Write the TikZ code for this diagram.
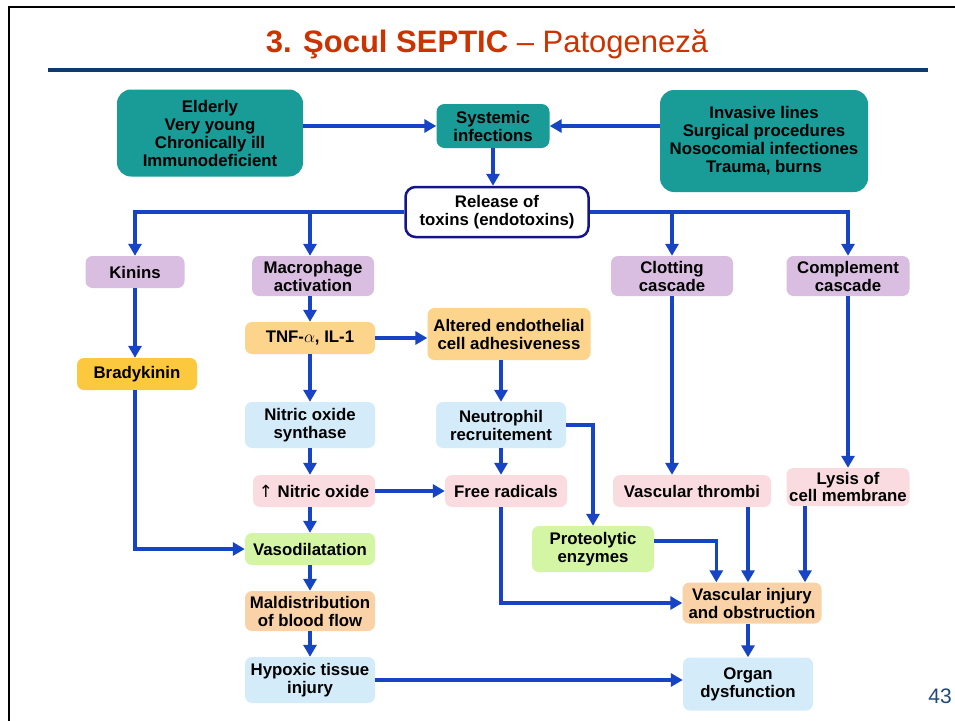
\documentclass[tikz,border=0pt]{standalone}
\usepackage{fontspec}
\setmainfont{Liberation Sans}
\newfontfamily\symfont{DejaVu Sans}
\usetikzlibrary{arrows.meta,calc}
\definecolor{tealc}{RGB}{25,155,152}
\definecolor{arrowc}{RGB}{22,68,196}
\definecolor{relc}{RGB}{20,20,140}
\definecolor{purplec}{RGB}{218,190,226}
\definecolor{orangec}{RGB}{252,212,140}
\definecolor{yellowc}{RGB}{252,200,62}
\definecolor{lbluec}{RGB}{212,236,250}
\definecolor{pinkc}{RGB}{250,220,224}
\definecolor{greenc}{RGB}{212,246,164}
\definecolor{peachc}{RGB}{250,210,168}
\definecolor{titlec}{RGB}{204,51,0}
\definecolor{navyc}{RGB}{16,58,107}
\definecolor{numc}{RGB}{31,73,125}
\begin{document}
\begin{tikzpicture}[x=1pt,y=-1pt,
  box/.style={rounded corners=7pt, inner sep=1pt, align=center, text=black,
    font=\bfseries\fontsize{16.8}{18}\selectfont},
  tealbox/.style={box, fill=tealc, rounded corners=14pt},
  purplebox/.style={box, fill=purplec},
  orangebox/.style={box, fill=orangec},
  yellowbox/.style={box, fill=yellowc},
  lbluebox/.style={box, fill=lbluec},
  pinkbox/.style={box, fill=pinkc},
  greenbox/.style={box, fill=greenc},
  peachbox/.style={box, fill=peachc},
  sz/.style 2 args={minimum width=#1pt, minimum height=#2pt},
  arr/.style={draw=arrowc, line width=3.5pt, -{Triangle[length=12pt,width=13pt]}}
]
\useasboundingbox (0,0) rectangle (955,720);
\fill[white] (0,0) rectangle (955,720);
% frame and rule
\draw[black, line width=2.5pt] (9,721) -- (9,7) -- (956,7);
\draw[navyc, line width=4pt] (48,70) -- (928,70);
% title
\node[anchor=base, text=titlec, font=\fontsize{31}{34}\selectfont, inner sep=0pt] (title) at (487,52)
  {\textbf{3. Şocul SEPTIC} – Patogeneză};
\node[anchor=base, text=numc, font=\fontsize{21}{24}\selectfont, inner sep=0pt] (pnum) at (940,703) {43};

% nodes
\node[tealbox, sz={186}{87}] (eld) at (210,133) {Elderly\\Very young\\Chronically ill\\Immunodeficient};
\node[tealbox, sz={113}{44}, rounded corners=8pt] (sys) at (493,126) {Systemic\\infections};
\node[tealbox, sz={208}{102}] (inv) at (764,141) {Invasive lines\\Surgical procedures\\Nosocomial infectiones\\Trauma, burns};
\node[box, fill=white, draw=relc, line width=2.5pt, rounded corners=10pt, sz={183}{50}] (rel) at (497,212) {Release of\\toxins (endotoxins)};

\node[purplebox, sz={99}{32}] (kin) at (135,272) {Kinins};
\node[purplebox, sz={122}{40}] (mac) at (313,276) {Macrophage\\activation};
\node[purplebox, sz={122}{40}] (clot) at (672,276) {Clotting\\cascade};
\node[purplebox, sz={123}{40}] (comp) at (848,276) {Complement\\cascade};

\node[orangebox, sz={130}{32}] (tnf) at (310,338) {TNF-$\alpha$, IL-1};
\node[orangebox, sz={163}{52}] (alt) at (509,334) {Altered endothelial\\cell adhesiveness};
\node[yellowbox, sz={120}{32}] (brad) at (137,374) {Bradykinin};

\node[lbluebox, sz={130}{46}] (nos) at (310,425) {Nitric oxide\\synthase};
\node[lbluebox, sz={130}{46}] (neu) at (501,425) {Neutrophil\\recruitement};

\node[pinkbox, sz={122}{32}] (no) at (314,491) {{\symfont\mdseries ↑} Nitric oxide};
\node[pinkbox, sz={122}{32}] (frad) at (506,491) {Free radicals};
\node[pinkbox, sz={158}{32}] (vthr) at (692,491) {Vascular thrombi};
\node[pinkbox, sz={123}{38}, font=\bfseries\fontsize{16.8}{17}\selectfont] (lys) at (848,487) {Lysis of\\cell membrane};

\node[greenbox, sz={122}{46}] (prot) at (593,549) {Proteolytic\\enzymes};
\node[greenbox, sz={130}{32}] (vaso) at (310,549) {Vasodilatation};
\node[peachbox, sz={130}{40}] (mald) at (310,611) {Maldistribution\\of blood flow};
\node[peachbox, sz={139}{41}] (vinj) at (752,603) {Vascular injury\\and obstruction};
\node[lbluebox, sz={130}{46}] (hyp) at (310,680) {Hypoxic tissue\\injury};
\node[lbluebox, sz={130}{53}] (org) at (748,684) {Organ\\dysfunction};

\coordinate (lx) at (805,0);

% connectors
\draw[arr] (eld.east |- sys.west) -- (sys.west);
\draw[arr] (inv.west |- sys.east) -- (sys.east);
\draw[arr] (sys.south) -- (sys.south |- rel.north);
\draw[arr] (rel.west) -| (kin.north);
\draw[arr] (rel.west -| tnf) -- (mac.north -| tnf);
\draw[arr] (rel.east) -| (clot.north);
\draw[arr] (rel.east) -| (comp.north);

\draw[arr] (kin.south) -- (kin.south |- brad.north);
\draw[arr] (brad.south -| kin) |- (vaso.west);
\draw[arr] (mac.south -| tnf) -- (tnf.north);
\draw[arr] (tnf.east) -- (tnf.east -| alt.west);
\draw[arr] (tnf.south) -- (nos.north);
\draw[arr] (alt.south -| neu) -- (neu.north);
\draw[arr] (nos.south) -- (nos.south |- no.north);
\draw[arr] (neu.south) -- (neu.south |- frad.north);
\draw[arr] (neu.east) -| (prot.north);
\draw[arr] (no.east) -- (frad.west);
\draw[arr] (no.south -| vaso) -- (vaso.north);
\draw[arr] (vaso.south) -- (mald.north);
\draw[arr] (mald.south) -- (hyp.north);
\draw[arr] (hyp.east) -- (hyp.east -| org.west);
\draw[arr] (clot.south) -- (clot.south |- vthr.north);
\draw[arr] (comp.south) -- (lys.north);
\draw[arr] (frad.south -| neu) |- (vinj.west);
\draw[arr] ([yshift=8pt]prot.east) -| ([xshift=34pt]vinj.north west);
\draw[arr] (vthr.south -| org) -- (vinj.north -| org);
\draw[arr] (lys.south -| lx) -- (vinj.north -| lx);
\draw[arr] (vinj.south -| org) -- (org.north);
\end{tikzpicture}
\end{document}
